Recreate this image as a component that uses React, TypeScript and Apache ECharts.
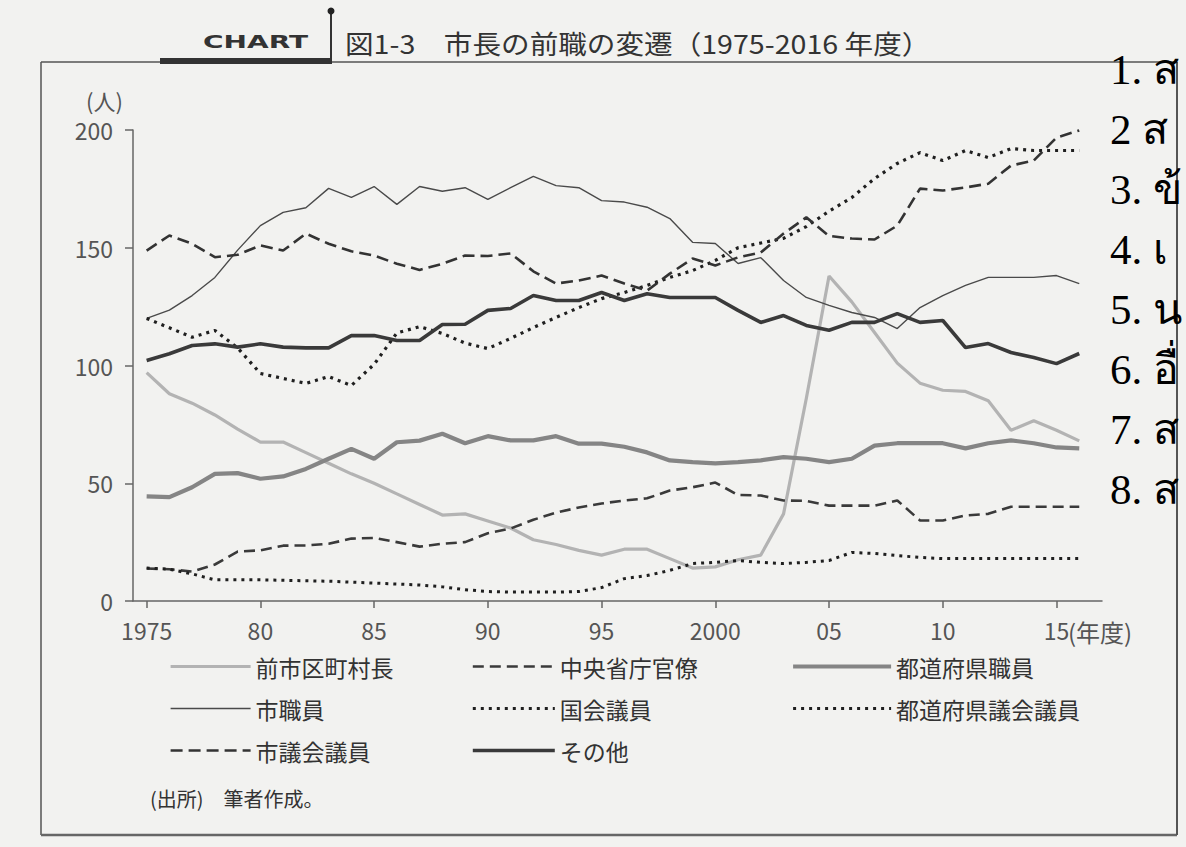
import React, { useEffect, useRef } from "react";
import * as echarts from "echarts";

const years = [
  1975, 1976, 1977, 1978, 1979, 1980, 1981, 1982, 1983, 1984,
  1985, 1986, 1987, 1988, 1989, 1990, 1991, 1992, 1993, 1994,
  1995, 1996, 1997, 1998, 1999, 2000, 2001, 2002, 2003, 2004,
  2005, 2006, 2007, 2008, 2009, 2010, 2011, 2012, 2013, 2014,
  2015, 2016,
];

// 前市区町村長
const formerMunicipalHeads = [
  97, 88, 84, 79, 73, 67.5, 67.5, 63, 58.5, 54,
  50, 45.5, 41, 36.5, 37, 34, 31, 26, 24, 21.5,
  19.5, 22, 22, 18, 14, 14.5, 17.5, 19.5, 37, 86,
  138, 127, 114, 101, 92.5, 89.5, 89, 85, 72.5, 76.5,
  72.5, 68,
];
// 中央省庁官僚
const centralBureaucrats = [
  13.8, 13.5, 12.5, 15.5, 21, 21.5, 23.5, 23.6, 24.3, 26.5,
  26.8, 25, 23.1, 24.3, 25, 28.8, 30.8, 34.5, 37.5, 39.7,
  41.4, 42.7, 43.6, 46.9, 48.3, 50.3, 45, 44.8, 42.7, 42.5,
  40.5, 40.5, 40.5, 42.7, 34.2, 34.2, 36.3, 37, 40, 40,
  40, 40,
];
// 都道府県職員
const prefecturalStaff = [
  44.4, 44.1, 48.3, 54, 54.3, 51.9, 52.9, 56.1, 60.4, 64.6,
  60.4, 67.4, 68.1, 71, 67, 70, 68.2, 68.2, 70, 66.8,
  66.8, 65.5, 63.1, 59.7, 59, 58.4, 59, 59.7, 61.1, 60.4,
  59, 60.4, 66, 67, 67, 67, 64.8, 67, 68.2, 67,
  65.2, 64.8,
];
// 市職員
const cityStaff = [
  120, 123.5, 129.7, 137.4, 149, 159.4, 165, 167, 175.2, 171.4,
  176, 168.4, 176, 174, 175.5, 170.5, 175.5, 180.3, 176.4, 175.5,
  170, 169.4, 167.2, 162.4, 152.3, 151.8, 143.3, 145.8, 136.1, 128.9,
  125.5, 122.5, 120.4, 115.7, 124.6, 129.7, 134, 137.4, 137.4, 137.4,
  138.2, 134.8,
];
// 国会議員
const dietMembers = [
  14, 13.5, 11.5, 9, 9, 9, 8.8, 8.6, 8.4, 8,
  7.6, 7.2, 6.8, 6, 4.8, 4, 3.8, 3.8, 3.8, 4,
  5.7, 9.5, 10.8, 13, 15.9, 16.4, 17.2, 16.4, 15.9, 16.4,
  17.2, 20.6, 20.2, 19.3, 18.5, 18, 18, 18, 18, 18,
  18, 18,
];
// 都道府県議会議員
const prefecturalAssembly = [
  120, 116, 112, 114.9, 107.5, 96.6, 94.5, 92.4, 95.3, 91.5,
  100.5, 113.8, 116.5, 113.6, 109.5, 107.2, 111.5, 116.1, 120.4, 124.6,
  128.4, 131, 134, 137.4, 140.3, 144.6, 150, 152, 154, 159,
  165.5, 171.3, 179.4, 185.8, 190.4, 187, 191.3, 188.3, 192.1, 191.3,
  191.3, 191.3,
];
// 市議会議員
const cityAssembly = [
  148.8, 155.2, 151.7, 146, 147, 151, 148.8, 156, 151.7, 148.5,
  146.7, 143.2, 140.6, 143.2, 146.7, 146.5, 147.6, 140, 134.8, 136.1,
  138.2, 134.8, 131.8, 139, 145.4, 142.5, 145.9, 148, 156, 162.9,
  155, 153.9, 153.5, 159.4, 175.1, 174.3, 175.6, 177.2, 184.9, 187,
  196.8, 199.8,
];
// その他
const others = [
  102.1, 105, 108.5, 109.2, 107.8, 109.2, 107.8, 107.5, 107.5, 112.7,
  112.7, 110.6, 110.6, 117.4, 117.5, 123.4, 124.2, 129.7, 127.6, 127.6,
  131, 127.6, 130.5, 128.9, 128.9, 128.9, 123.4, 118.3, 121.2, 117,
  115, 118.3, 118.3, 122, 118.3, 119.1, 107.6, 109.3, 105.5, 103.4,
  100.8, 105.1,
];

const seriesNames = [
  "前市区町村長",
  "中央省庁官僚",
  "都道府県職員",
  "市職員",
  "国会議員",
  "都道府県議会議員",
  "市議会議員",
  "その他",
];
const legendColumn1 = ["前市区町村長", "市職員", "市議会議員"];
const legendColumn2 = ["中央省庁官僚", "国会議員", "その他"];
const legendColumn3 = ["都道府県職員", "都道府県議会議員"];

const xTickValues = [1975, 1980, 1985, 1990, 1995, 2000, 2005, 2010, 2015];
const xTickLabels = ["1975", "80", "85", "90", "95", "2000", "05", "10", "15"];

const titleText = "図1-3　市長の前職の変遷（1975-2016 年度）";
const sourceText = "(出所)　筆者作成。";
const thaiItems = ["1. ส", "2 ส", "3. ข้", "4. เ", "5. น", "6. อื่", "7. ส", "8. ส"];

const JP = "'Noto Sans CJK JP', 'Noto Sans', sans-serif";
const BG = "#f2f2f0";

export default function App() {
  const ref = useRef<HTMLDivElement>(null);

  useEffect(() => {
    if (!ref.current) return;
    const chart = echarts.init(ref.current, undefined, { renderer: "svg" });

    const pair = (vals: number[]) => years.map((y, i) => [y, vals[i]]);
    const styles: any[] = [
      { data: formerMunicipalHeads, color: "#b3b3b3", width: 3.2, type: "solid", z: 2 },
      { data: centralBureaucrats, color: "#3a3a3a", width: 2.6, type: [11, 6], z: 3 },
      { data: prefecturalStaff, color: "#858585", width: 4.2, type: "solid", z: 2 },
      { data: cityStaff, color: "#4a4a4a", width: 1.4, type: "solid", z: 3 },
      { data: dietMembers, color: "#1f1f1f", width: 3, type: [3, 5], z: 3 },
      { data: prefecturalAssembly, color: "#1f1f1f", width: 3.2, type: [3, 5], z: 3 },
      { data: cityAssembly, color: "#333333", width: 2.6, type: [12, 6], z: 3 },
      { data: others, color: "#3a3a3a", width: 3.6, type: "solid", z: 3 },
    ];

    const series = styles.map((s, i) => ({
      name: seriesNames[i],
      type: "line",
      data: pair(s.data),
      symbol: "none",
      showSymbol: false,
      z: s.z,
      color: s.color,
      lineStyle: { color: s.color, width: s.width, type: s.type, cap: "butt" },
      emphasis: { disabled: true },
    }));

    const legendItems = (names: string[]) =>
      names.map((n) => {
        const s = styles[seriesNames.indexOf(n)];
        return {
          name: n,
          lineStyle: { color: s.color, width: s.width, type: s.type, cap: "butt" },
          itemStyle: { opacity: 0, color: "transparent", borderColor: "transparent", borderWidth: 0 },
        };
      });

    const legendBase = {
      orient: "vertical",
      itemGap: 17,
      itemHeight: 14,
      itemStyle: { opacity: 0, color: "transparent", borderColor: "transparent", borderWidth: 0 },
      textStyle: { fontSize: 23, color: "#333", fontFamily: JP, lineHeight: 25 },
      selectedMode: false,
    };

    const graphic: any[] = [
      // frame
      { type: "line", z: 1, shape: { x1: 41, y1: 62, x2: 41, y2: 835 }, style: { stroke: "#555", lineWidth: 1.5 } },
      { type: "line", z: 1, shape: { x1: 41, y1: 62, x2: 1177, y2: 62 }, style: { stroke: "#555", lineWidth: 1.5 } },
      { type: "line", z: 1, shape: { x1: 41, y1: 835, x2: 1177, y2: 835 }, style: { stroke: "#666", lineWidth: 2.5 } },
      { type: "line", z: 1, shape: { x1: 1177, y1: 62, x2: 1177, y2: 835 }, style: { stroke: "#555", lineWidth: 2 } },
      { type: "rect", z: 1, shape: { x: 160, y: 58, width: 172, height: 6 }, style: { fill: "#333" } },
      { type: "line", z: 1, shape: { x1: 331, y1: 12, x2: 331, y2: 62 }, style: { stroke: "#333", lineWidth: 2 } },
      { type: "circle", z: 1, shape: { cx: 331, cy: 11, r: 3.5 }, style: { fill: "#222" } },
      {
        type: "text", z: 1, x: 203, y: 42, scaleX: 1.65,
        style: { text: "CHART", fontSize: 17, fontWeight: "bold", fontFamily: "'DejaVu Sans', sans-serif", fill: "#333", align: "left", verticalAlign: "middle" },
      },
      {
        type: "text", z: 1, x: 345, y: 43, scaleX: 1.1,
        style: { text: titleText, fontSize: 26, fontFamily: JP, fill: "#333", align: "left", verticalAlign: "middle" },
      },
      {
        type: "text", z: 1, x: 86, y: 100,
        style: { text: "(人)", fontSize: 22, fontFamily: JP, fill: "#555", align: "left", verticalAlign: "middle" },
      },
      {
        type: "text", z: 1, x: 1068, y: 631,
        style: { text: "(年度)", fontSize: 24, fontFamily: JP, fill: "#555", align: "left", verticalAlign: "middle" },
      },
      {
        type: "text", z: 1, x: 150, y: 798,
        style: { text: sourceText, fontSize: 20, fontFamily: JP, fill: "#333", align: "left", verticalAlign: "middle" },
      },
    ];
    thaiItems.forEach((t, i) => {
      graphic.push({
        type: "text", x: 1110, y: 69 + i * 60, z: 100,
        style: { text: t, fontSize: 43, fontFamily: "'Liberation Serif', 'DejaVu Serif', serif", fill: "#000", align: "left", verticalAlign: "middle" },
      });
    });

    chart.setOption({
      animation: false,
      backgroundColor: "transparent",
      grid: { left: 133, top: 130, width: 969, height: 471, containLabel: false },
      xAxis: {
        type: "value",
        min: 1974.4,
        max: 2017,
        splitLine: { show: false },
        axisLine: { show: true, lineStyle: { color: "#666", width: 1.5 } },
        axisTick: { show: true, length: 7, customValues: xTickValues, lineStyle: { color: "#666", width: 1.5 } },
        axisLabel: {
          customValues: xTickValues,
          margin: 17,
          fontSize: 23,
          color: "#555",
          fontFamily: JP,
          formatter: (v: number) => {
            const idx = xTickValues.indexOf(Math.round(v));
            return idx >= 0 ? xTickLabels[idx] : "";
          },
        },
      },
      yAxis: {
        type: "value",
        min: 0,
        max: 200,
        interval: 50,
        splitLine: { show: false },
        axisLine: { show: true, lineStyle: { color: "#666", width: 1.5 } },
        axisTick: { show: true, length: 8, lineStyle: { color: "#666", width: 1.5 } },
        axisLabel: { margin: 20, fontSize: 23, color: "#555", fontFamily: JP },
      },
      legend: [
        { ...legendBase, left: 164, top: 649, itemWidth: 80, data: legendItems(legendColumn1) },
        { ...legendBase, left: 466, top: 649, itemWidth: 82, data: legendItems(legendColumn2) },
        { ...legendBase, left: 786, top: 649, itemWidth: 98, data: legendItems(legendColumn3) },
      ],
      graphic,
      series,
    });

    return () => chart.dispose();
  }, []);

  return (
    <div
      style={{ position: "absolute", left: 0, top: 0, width: 1186, height: 847, background: BG, overflow: "hidden" }}
    >
      <div ref={ref} style={{ width: 1186, height: 847 }} />
    </div>
  );
}
